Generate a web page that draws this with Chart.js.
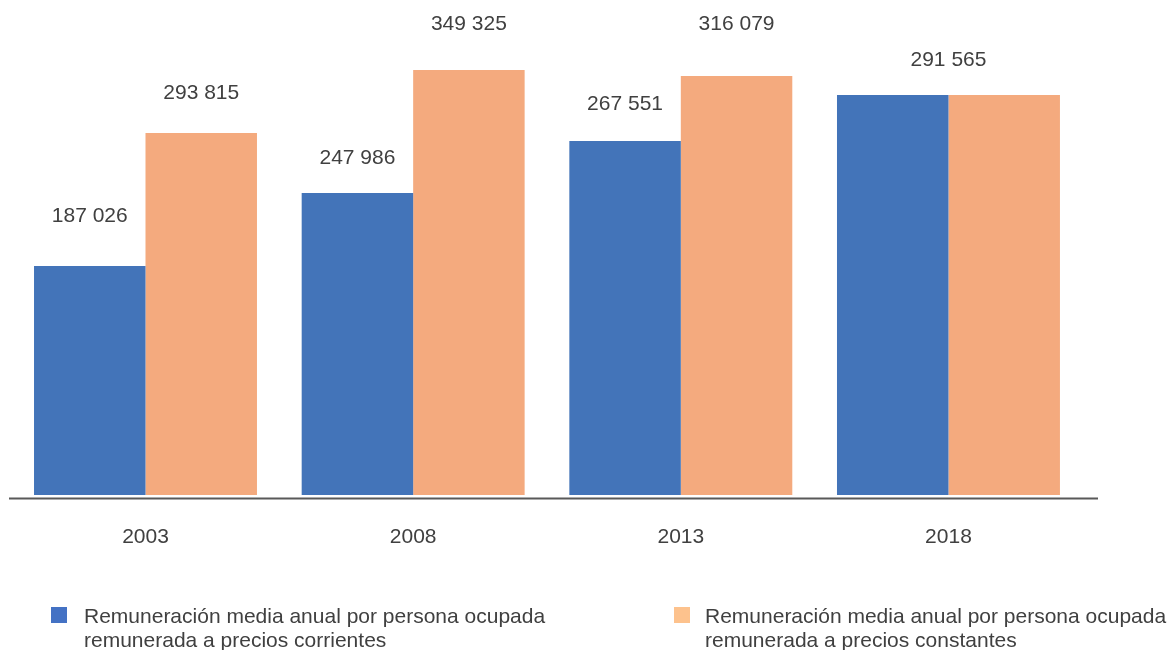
<!DOCTYPE html>
<html>
<head>
<meta charset="utf-8">
<script src="https://cdn.jsdelivr.net/npm/chart.js@4.4.0/dist/chart.umd.min.js"></script>
<style>
  html, body { margin: 0; padding: 0; background: #ffffff; }
  #wrap { position: relative; width: 1170px; height: 650px; overflow: hidden; }
  #c { position: absolute; left: 0; top: 0; }
  .leg { position: absolute; font-family: "Liberation Sans", Arial, sans-serif; font-size: 21px; line-height: 24px; color: #404040; white-space: nowrap; }
  .sq { position: absolute; width: 16px; height: 16px; }
</style>
</head>
<body>
<div id="wrap">
  <canvas id="c" width="1170" height="650"></canvas>
  <div class="sq" id="sq1" style="left:51px; top:607px;"></div>
  <div class="leg" id="lg1" style="left:84px; top:604px;"></div>
  <div class="sq" id="sq2" style="left:674px; top:607px;"></div>
  <div class="leg" id="lg2" style="left:705px; top:604px;"></div>
</div>
<script>
// ---- data ----
const years = ['2003', '2008', '2013', '2018'];
const seriesNames = [
  ['Remuneración media anual por persona ocupada', 'remunerada a precios corrientes'],
  ['Remuneración media anual por persona ocupada', 'remunerada a precios constantes']
];
// values printed above the bars
const currentLabels = [187026, 247986, 267551, 291565];
const constantLabels = [293815, 349325, 316079, 291565];
// bar heights as drawn in the picture (same units)
const currentBars = [186900, 246500, 289000, 326500];
const constantBars = [295500, 346900, 342000, 326500];

// ---- styles ----
const blue = '#4374B9';
const orange = '#F4AA7E';
const legendBlue = '#4472C4';
const legendOrange = '#FDC28D';
const textColor = '#404040';
const font = '"Liberation Sans", Arial, sans-serif';
// label offset above bar top (px), per series/category
const labelOffsets = [[50, 35, 37, 35], [40, 46, 52, 35]];

document.getElementById('sq1').style.background = legendBlue;
document.getElementById('sq2').style.background = legendOrange;
document.getElementById('lg1').innerHTML = seriesNames[0].join('<br>');
document.getElementById('lg2').innerHTML = seriesNames[1].join('<br>');

function fmt(v) {
  return String(v).replace(/\B(?=(\d{3})+(?!\d))/g, ' ');
}

const labelPlugin = {
  id: 'valueLabels',
  afterDatasetsDraw(chart) {
    const ctx = chart.ctx;
    const labels = [currentLabels, constantLabels];
    const m0 = chart.getDatasetMeta(0);
    const m1 = chart.getDatasetMeta(1);
    ctx.save();
    ctx.font = '21px ' + font;
    ctx.fillStyle = textColor;
    ctx.textAlign = 'center';
    ctx.textBaseline = 'middle';
    for (let i = 0; i < years.length; i++) {
      const b0 = m0.data[i], b1 = m1.data[i];
      if (labels[0][i] === labels[1][i]) {
        const x = (b0.x + b1.x) / 2;
        const y = Math.min(b0.y, b1.y) - labelOffsets[1][i];
        ctx.fillText(fmt(labels[1][i]), x, y);
      } else {
        ctx.fillText(fmt(labels[0][i]), b0.x, b0.y - labelOffsets[0][i]);
        ctx.fillText(fmt(labels[1][i]), b1.x, b1.y - labelOffsets[1][i]);
      }
    }
    ctx.restore();
  }
};

const axisLinePlugin = {
  id: 'axisLine',
  afterDraw(chart) {
    const ctx = chart.ctx;
    const y = chart.chartArea.bottom + 3.5;
    ctx.save();
    ctx.strokeStyle = '#595959';
    ctx.lineWidth = 2;
    ctx.beginPath();
    ctx.moveTo(9, y);
    ctx.lineTo(1098, y);
    ctx.stroke();
    ctx.restore();
  }
};

new Chart(document.getElementById('c'), {
  type: 'bar',
  data: {
    labels: years,
    datasets: [
      { label: seriesNames[0].join(' '), data: currentBars, backgroundColor: blue, borderWidth: 0 },
      { label: seriesNames[1].join(' '), data: constantBars, backgroundColor: orange, borderWidth: 0 }
    ]
  },
  options: {
    responsive: false,
    animation: false,
    layout: { padding: { top: 5, left: 11.67, right: 87.7, bottom: 95 } },
    datasets: { bar: { barPercentage: 1.0, categoryPercentage: 0.833 } },
    plugins: { legend: { display: false }, tooltip: { enabled: false } },
    scales: {
      x: {
        grid: { display: false, drawTicks: false },
        border: { display: false },
        ticks: { color: textColor, font: { family: font, size: 21 }, padding: 30 },
        afterFit(scale) { scale.height = 60; }
      },
      y: { display: false, min: 0, max: 400000 }
    }
  },
  plugins: [labelPlugin, axisLinePlugin]
});
</script>
</body>
</html>
